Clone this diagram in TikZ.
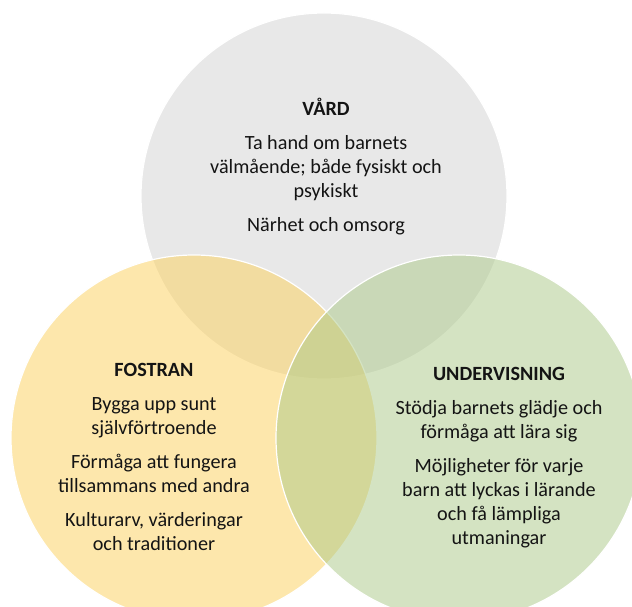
\documentclass[tikz,border=0pt]{standalone}
\usepackage{fontspec}
\setmainfont{Carlito}
\definecolor{cgray}{RGB}{210,210,210}
\definecolor{cyellow}{RGB}{253,209,90}
\definecolor{cgreen}{RGB}{171,201,135}
\definecolor{ctext}{RGB}{20,20,20}
\tikzset{
  venn/.style={circle, minimum size=366pt, inner sep=0pt, fill opacity=0.5, draw=white, draw opacity=1, line width=1.2pt},
  label block/.style={align=center, text=ctext, font=\fontsize{20.2}{24}\selectfont, inner sep=0pt}
}
\begin{document}
\begin{tikzpicture}[x=1pt,y=-1pt]
\useasboundingbox (0,0) rectangle (632,607);
\clip (0,0) rectangle (632,607);
\fill[white] (0,0) rectangle (632,607);
\node[venn, fill=cgray] (vard) at (324,196) {};
\node[venn, fill=cyellow] (fostran) at (194,438) {};
\node[venn, fill=cgreen] (undervisning) at (459,438) {};
\node[label block] (vardtext) at (326,167) {\textbf{VÅRD}\\[10pt]Ta hand om barnets\\välmående; både fysiskt och\\psykiskt\\[10pt]Närhet och omsorg};
\node[label block] (fostrantext) at (154,457) {\textbf{FOSTRAN}\\[10pt]Bygga upp sunt\\självförtroende\\[10pt]Förmåga att fungera\\tillsammans med andra\\[10pt]Kulturarv, värderingar\\och traditioner};
\node[label block] (undtext) at (499,458) {\textbf{UNDERVISNING}\\[10pt]Stödja barnets glädje och\\förmåga att lära sig\\[10pt]Möjligheter för varje\\barn att lyckas i lärande\\och få lämpliga\\utmaningar};
\end{tikzpicture}
\end{document}
